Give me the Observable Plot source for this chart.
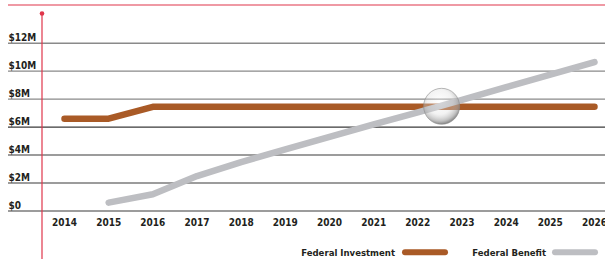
<!DOCTYPE html>
<html><head><meta charset="utf-8">
<script src="https://cdn.jsdelivr.net/npm/d3@7"></script>
<script src="https://cdn.jsdelivr.net/npm/@observablehq/plot@0.6"></script>
<style>
html,body{margin:0;padding:0;background:#fff;}
#chart{position:relative;width:605px;height:259px;overflow:hidden;}
svg{display:block;}
</style></head><body><div id="chart"></div>
<script>
// ---- data ----
const years = [2014,2015,2016,2017,2018,2019,2020,2021,2022,2023,2024,2025,2026];
const yearLabels = ["2014","2015","2016","2017","2018","2019","2020","2021","2022","2023","2024","2025","2026"];
const investmentYears = [2014,2015,2016,2017,2018,2019,2020,2021,2022,2023,2024,2025,2026];
const investment = [6.6,6.6,7.45,7.45,7.45,7.45,7.45,7.45,7.45,7.45,7.45,7.45,7.45];
const benefitYears = [2015,2016,2017,2018,2019,2020,2021,2022,2023,2024,2025,2026];
const benefit = [0.6,1.2,2.5,3.5,4.4,5.3,6.2,7.05,7.95,8.85,9.75,10.65];
const yTicks = [0,2,4,6,8,10,12];
const yTickLabels = ["$0","$2M","$4M","$6M","$8M","$10M","$12M"];
const seriesNames = ["Federal Investment","Federal Benefit"];
const seriesColors = ["#a95a26","#bdbec2"];
const breakEvenYear = 2022.55;
const breakEvenValue = 7.45;

const FONT = '"DejaVu Sans Condensed", "DejaVu Sans", sans-serif';
const TEXT = "#231f20";

const invRows = investmentYears.map((y,i)=>({year:y, value:investment[i]}));
const benRows = benefitYears.map((y,i)=>({year:y, value:benefit[i]}));

const chart = Plot.plot({
  width: 605, height: 259,
  marginLeft: 8, marginRight: 0, marginTop: 0, marginBottom: 0,
  style: {fontFamily: FONT, background: "#fff"},
  x: {domain: [2014, 2026], range: [64, 594], axis: null},
  y: {domain: [0, 12], range: [210.5, 42.7], axis: null},
  marks: [
    Plot.ruleY(yTicks.filter(d => d >= 8), {stroke: "#8a8a8a", strokeWidth: 1.4}),
    Plot.ruleY(yTicks.filter(d => d < 8), {stroke: "#3a3a3a", strokeWidth: 1.1}),
    Plot.text(yTicks, {y: d => d, text: (d,i) => yTickLabels[i], frameAnchor: "left", textAnchor: "start",
      lineAnchor: "bottom", dy: -2, fontWeight: "bold", fontSize: 10, fill: TEXT, fontFamily: FONT}),
    Plot.text(years, {x: d => d, y: d => 0, dy: 12, text: (d,i) => yearLabels[i], lineAnchor: "middle",
      fontWeight: "bold", fontSize: 10, fill: TEXT, fontFamily: FONT}),
    Plot.line(invRows, {x: "year", y: "value", stroke: seriesColors[0], strokeWidth: 6.5,
      strokeLinecap: "round", strokeLinejoin: "round"}),
    Plot.line(benRows, {x: "year", y: "value", stroke: seriesColors[1], strokeWidth: 6.5,
      strokeLinecap: "round", strokeLinejoin: "round"})
  ]
});
document.getElementById("chart").appendChild(chart);

const svg = d3.select(chart);
const sx = chart.scale("x"), sy = chart.scale("y");

// sphere gradient
const defs = svg.append("defs");
const g = defs.append("radialGradient").attr("id","sphere").attr("cx","45%").attr("cy","38%").attr("r","62%");
g.append("stop").attr("offset","0%").attr("stop-color","#ffffff").attr("stop-opacity",0.35);
g.append("stop").attr("offset","55%").attr("stop-color","#dcdcdc").attr("stop-opacity",0.35);
g.append("stop").attr("offset","85%").attr("stop-color","#a0a0a0").attr("stop-opacity",0.65);
g.append("stop").attr("offset","100%").attr("stop-color","#6e6e6e").attr("stop-opacity",0.85);
svg.append("circle")
  .attr("cx", sx.apply(breakEvenYear)).attr("cy", sy.apply(breakEvenValue)).attr("r", 18)
  .attr("fill","url(#sphere)").attr("stroke","#8c8c8c").attr("stroke-width",0.6);

// red decorations
const red = "#e0354a";
svg.append("line").attr("x1",8).attr("x2",605).attr("y1",5).attr("y2",5).attr("stroke",red).attr("stroke-width",1.2);
svg.append("line").attr("x1",42).attr("x2",42).attr("y1",13).attr("y2",259).attr("stroke",red).attr("stroke-width",1.2);
svg.append("circle").attr("cx",42).attr("cy",13.5).attr("r",2.3).attr("fill",red);

// legend
const legend = [
  {name: seriesNames[0], color: seriesColors[0], textEnd: 395, x1: 405, x2: 445},
  {name: seriesNames[1], color: seriesColors[1], textEnd: 546, x1: 555, x2: 595}
];
legend.forEach(l => {
  svg.append("text").attr("x", l.textEnd).attr("y", 252).attr("text-anchor","end")
    .attr("dominant-baseline","central").attr("font-weight","bold").attr("font-size",9.5)
    .attr("font-family",FONT).attr("fill",TEXT).text(l.name);
  svg.append("line").attr("x1", l.x1).attr("x2", l.x2).attr("y1", 252.3).attr("y2", 252.3)
    .attr("stroke", l.color).attr("stroke-width", 6).attr("stroke-linecap","round");
});
</script></body></html>
